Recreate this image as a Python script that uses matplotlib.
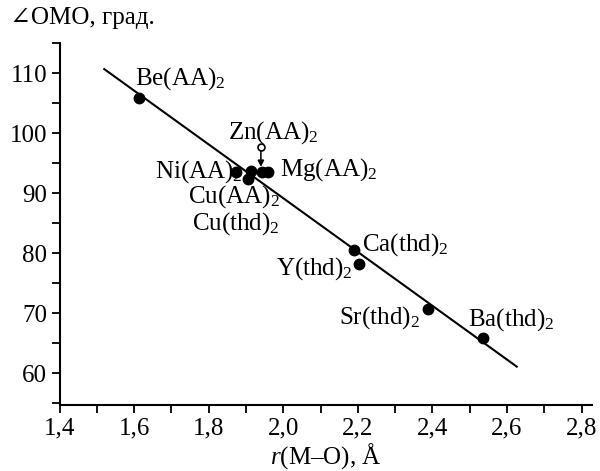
import matplotlib
matplotlib.use('Agg')
import matplotlib.pyplot as plt
from matplotlib.ticker import MultipleLocator

plt.rcParams['font.family'] = ['Liberation Serif', 'DejaVu Serif']
plt.rcParams['mathtext.fontset'] = 'custom'
plt.rcParams['mathtext.rm'] = 'Liberation Serif'
plt.rcParams['mathtext.it'] = 'Liberation Serif:italic'

# data
names = ['Be', 'Ni', 'CuAA', 'Cuthd', 'Mg1', 'Mg2', 'Ca', 'Y', 'Sr', 'Ba']
r_mo = [1.614, 1.872, 1.913, 1.906, 1.942, 1.960, 2.190, 2.204, 2.389, 2.535]
omo = [105.8, 93.6, 93.7, 92.4, 93.5, 93.5, 80.55, 78.2, 70.7, 65.9]

zn_x = 1.940
zn_y = 97.7

line_x = [1.520, 2.626]
line_y = [110.7, 61.1]

labels = [r'Be(AA)$_2$', r'Zn(AA)$_2$', r'Ni(AA)$_2$', r'Mg(AA)$_2$',
          r'Cu(AA)$_2$', r'Cu(thd)$_2$', r'Ca(thd)$_2$', r'Y(thd)$_2$',
          r'Sr(thd)$_2$', r'Ba(thd)$_2$']
label_x = [1.602, 1.852, 1.892, 1.991, 1.745, 1.755, 2.211, 2.187, 2.150, 2.495]
label_y = [109.2, 100.05, 93.55, 93.9, 89.5, 84.9, 81.4, 77.4, 69.2, 68.9]
label_ha = ['left', 'left', 'right', 'left', 'left', 'left', 'left', 'right', 'left', 'left']

xticks = [1.4, 1.6, 1.8, 2.0, 2.2, 2.4, 2.6, 2.8]
xticklabels = ['1,4', '1,6', '1,8', '2,0', '2,2', '2,4', '2,6', '2,8']
yticks = [60, 70, 80, 90, 100, 110]

fig = plt.figure(figsize=(6, 4.71), dpi=100)
ax = fig.add_axes([59.5/600, 1-405/471, (591.7-59.5)/600, (405-43.3)/471])

ax.plot(line_x, line_y, color='black', lw=1.5)
ax.plot(r_mo, omo, 'o', color='black', ms=7.5)
ax.plot(zn_x, zn_y, 'o', mfc='white', mec='black', ms=5, mew=1.2)
ax.annotate('', xy=(zn_x, 94.4), xytext=(zn_x, zn_y - 0.6),
            arrowprops=dict(arrowstyle='-|>', color='black', lw=1.1,
                            mutation_scale=9, shrinkA=0, shrinkB=0))

for t, x, y, ha in zip(labels, label_x, label_y, label_ha):
    ax.text(x, y, t, ha=ha, va='center', fontsize=18)

ax.set_xlim(1.4, 2.827)
ax.set_ylim(54.7, 115)
ax.set_xticks(xticks)
ax.set_xticklabels(xticklabels)
ax.set_yticks(yticks)
ax.xaxis.set_minor_locator(MultipleLocator(0.1))
ax.yaxis.set_minor_locator(MultipleLocator(5))
ax.tick_params(which='both', direction='out', length=6, width=1.3, labelsize=18, pad=3)

for s in ['top', 'right']:
    ax.spines[s].set_visible(False)
for s in ['left', 'bottom']:
    ax.spines[s].set_linewidth(1.5)

fig.text(10/600, 1-18/471, '∠OMO, град.', ha='left', va='center', fontsize=18)
ax.set_xlabel(r'$\mathit{r}$(M–O), Å', fontsize=18, labelpad=1)

fig.savefig('out.png', dpi=100)
